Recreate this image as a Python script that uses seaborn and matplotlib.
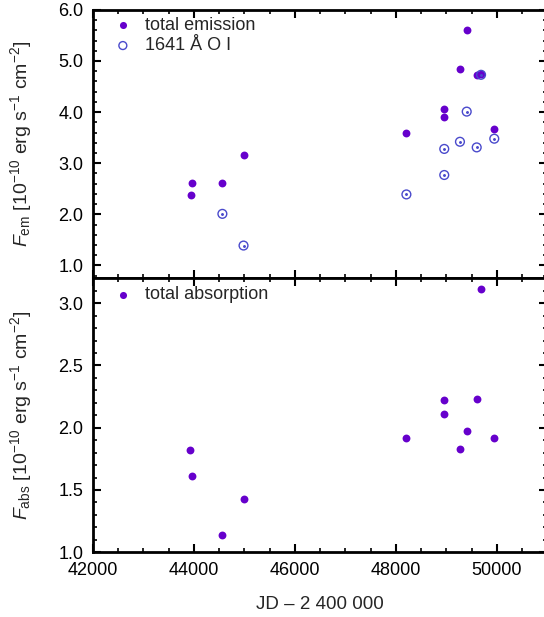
import numpy as np
import pandas as pd
import matplotlib
matplotlib.use("Agg")
import matplotlib.pyplot as plt
import seaborn as sns
from matplotlib.ticker import MultipleLocator

sns.set_theme(style="ticks")
plt.rcParams['font.family'] = ['Liberation Sans', 'DejaVu Sans']
plt.rcParams['mathtext.fontset'] = 'custom'
plt.rcParams['mathtext.rm'] = 'Liberation Sans'
plt.rcParams['mathtext.it'] = 'Liberation Sans:italic'

# Data
jd_em = [43932, 43960, 44563, 44982, 48209, 48959, 48959, 49270, 49404, 49602, 49688, 49950]
f_em = [2.38, 2.61, 2.61, 3.16, 3.59, 4.07, 3.90, 4.84, 5.61, 4.73, 4.74, 3.66]

jd_oi = [44563, 44982, 48209, 48959, 48959, 49270, 49404, 49602, 49688, 49950]
f_oi = [2.01, 1.39, 2.39, 3.28, 2.77, 3.42, 4.01, 3.31, 4.73, 3.48]

jd_abs = [43925, 43960, 44563, 44982, 48209, 48959, 48959, 49270, 49404, 49602, 49688, 49950]
f_abs = [1.82, 1.61, 1.14, 1.43, 1.92, 2.22, 2.11, 1.83, 1.97, 2.23, 3.11, 1.92]

df_em = pd.DataFrame({"jd": jd_em, "f": f_em})
df_oi = pd.DataFrame({"jd": jd_oi, "f": f_oi})
df_abs = pd.DataFrame({"jd": jd_abs, "f": f_abs})

purple = "#6600cc"
blue = "#4a4acc"

fig = plt.figure(figsize=(5.44, 6.17), dpi=100)
ax1 = fig.add_axes([0.171, 0.549, 0.835, 0.435])
ax2 = fig.add_axes([0.171, 0.105, 0.835, 0.444])

sns.scatterplot(data=df_em, x="jd", y="f", ax=ax1, color=purple, s=32,
                edgecolor=purple, linewidth=0, label="total emission", zorder=3)
sns.scatterplot(data=df_oi, x="jd", y="f", ax=ax1, s=40, facecolor="none",
                edgecolor=blue, linewidth=1.0, label="1641 Å O I", zorder=4)
ax1.scatter(df_oi["jd"], df_oi["f"], s=1.2, color=blue, zorder=5)

sns.scatterplot(data=df_abs, x="jd", y="f", ax=ax2, color=purple, s=32,
                edgecolor=purple, linewidth=0, label="total absorption", zorder=3)

for ax in (ax1, ax2):
    ax.set_xlim(42000, 51000)
    ax.xaxis.set_major_locator(MultipleLocator(2000))
    ax.xaxis.set_minor_locator(MultipleLocator(500))
    ax.tick_params(which="both", direction="in", top=True, right=True,
                   labelsize=13, colors="black")
    ax.tick_params(which="major", length=6, width=1.5, pad=7)
    ax.tick_params(which="minor", length=3, width=1.2)
    for sp in ax.spines.values():
        sp.set_linewidth(2)
        sp.set_color("black")
    ax.set_facecolor("white")

ax1.set_ylim(0.75, 6.0)
ax1.yaxis.set_major_locator(MultipleLocator(1.0))
ax1.yaxis.set_minor_locator(MultipleLocator(0.2))
ax1.yaxis.set_major_formatter(matplotlib.ticker.FormatStrFormatter("%.1f"))
ax1.tick_params(axis="x", labelbottom=False)
ax1.set_xlabel("")
ax1.set_ylabel(r"$\mathit{F}_{\rm em}$ [10$^{-10}$ erg s$^{-1}$ cm$^{-2}$]", fontsize=14)

ax2.set_ylim(1.0, 3.2)
ax2.yaxis.set_major_locator(MultipleLocator(0.5))
ax2.yaxis.set_minor_locator(MultipleLocator(0.1))
ax2.yaxis.set_major_formatter(matplotlib.ticker.FormatStrFormatter("%.1f"))
ax2.tick_params(axis="x", pad=7)
ax2.set_xlabel("JD – 2 400 000", fontsize=13.5, labelpad=12)
ax2.set_ylabel(r"$\mathit{F}_{\rm abs}$ [10$^{-10}$ erg s$^{-1}$ cm$^{-2}$]", fontsize=14)

for ax in (ax1, ax2):
    ax.yaxis.set_label_coords(-0.13, 0.5)

leg1 = ax1.legend(loc="upper left", frameon=False, fontsize=13, handletextpad=0.4,
                  borderaxespad=0.2, labelspacing=0.2, markerscale=0.9,
                  handlelength=1.6, bbox_to_anchor=(0.01, 1.015))
leg2 = ax2.legend(loc="upper left", frameon=False, fontsize=13, handletextpad=0.4,
                  borderaxespad=0.2, markerscale=0.9, handlelength=1.6,
                  bbox_to_anchor=(0.01, 1.01))

fig.savefig("out.png", dpi=100, facecolor="white")
